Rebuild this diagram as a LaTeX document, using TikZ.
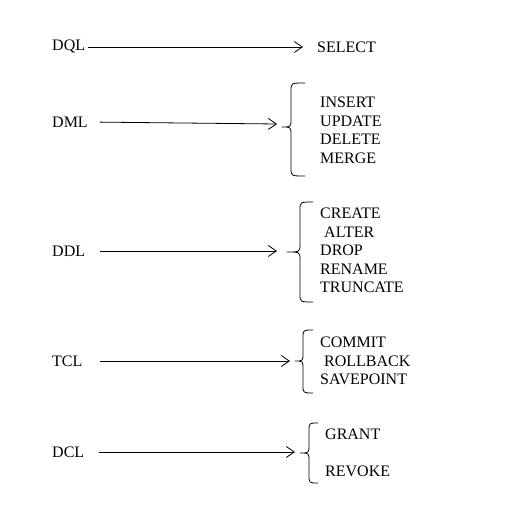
\documentclass[tikz,border=0pt]{standalone}
\usepackage{fontspec}
\setmainfont{Liberation Serif}
\usetikzlibrary{arrows.meta}
\begin{document}
\begin{tikzpicture}[x=1pt,y=-1pt,
  lbl/.style={inner sep=0pt, anchor=west, font=\fontsize{16}{18.5}\selectfont},
  lst/.style={inner sep=0pt, anchor=north west, align=left, font=\fontsize{16}{18.5}\selectfont},
  arr/.style={draw, line width=0.8pt, -{Straight Barb[length=8pt,width=11pt,line width=0.8pt]}},
  brc/.style={draw, line width=0.8pt, line join=round}]
\useasboundingbox (0,0) rectangle (523,508);
% labels
\node[lbl] (dql) at (52,47) {DQL};
\node[lbl] (dml) at (52,122) {DML};
\node[lbl] (ddl) at (52,251) {DDL};
\node[lbl] (tcl) at (52,361) {TCL};
\node[lbl] (dcl) at (52,452) {DCL};
% items
\node[lbl] (select) at (317,47) {SELECT};
\node[lst] (dmllist) at (320,97) {INSERT\\UPDATE\\DELETE\\MERGE};
\node[lst] (ddllist) at (320,208) {CREATE\\\hspace{4pt}ALTER\\DROP\\RENAME\\TRUNCATE};
\node[lst] (tcllist) at (320,337) {COMMIT\\\hspace{4pt}ROLLBACK\\SAVEPOINT};
\node[lst] (dcllist) at (325,429) {GRANT\\[18.5pt]REVOKE};
% arrow ends
\coordinate (dmlend) at (277,124);
\coordinate (ddlend) at (277,251);
\coordinate (tclend) at (290,361);
\coordinate (dclend) at (295,452);
% arrows
\draw[arr, shorten <=3pt, shorten >=14pt] (dql) -- (select);
\draw[arr, shorten <=12pt] (dml.east) -- (dmlend);
\draw[arr, shorten <=15pt] (ddl.east) -- (ddlend);
\draw[arr, shorten <=17pt] (tcl.east) -- (tclend);
\draw[arr, shorten <=15pt] (dcl.east) -- (dclend);
% braces
\draw[brc] (305,83) .. controls (291,83) .. (291,91) -- (291,119) .. controls (291,127) .. (282,127)
           .. controls (291,127) .. (291,135) -- (291,168) .. controls (291,176) .. (305,176);
\draw[brc] (313,202) .. controls (300,202) .. (300,210) -- (300,244) .. controls (300,252) .. (287,252)
           .. controls (300,252) .. (300,260) -- (300,294) .. controls (300,302) .. (313,302);
\draw[brc] (313,330) .. controls (303,330) .. (303,338) -- (303,353) .. controls (303,361) .. (295,361)
           .. controls (303,361) .. (303,369) -- (303,385) .. controls (303,393) .. (313,393);
\draw[brc] (318,423) .. controls (309,423) .. (309,431) -- (309,445) .. controls (309,453) .. (300,453)
           .. controls (309,453) .. (309,461) -- (309,475) .. controls (309,483) .. (318,483);
\end{tikzpicture}
\end{document}
